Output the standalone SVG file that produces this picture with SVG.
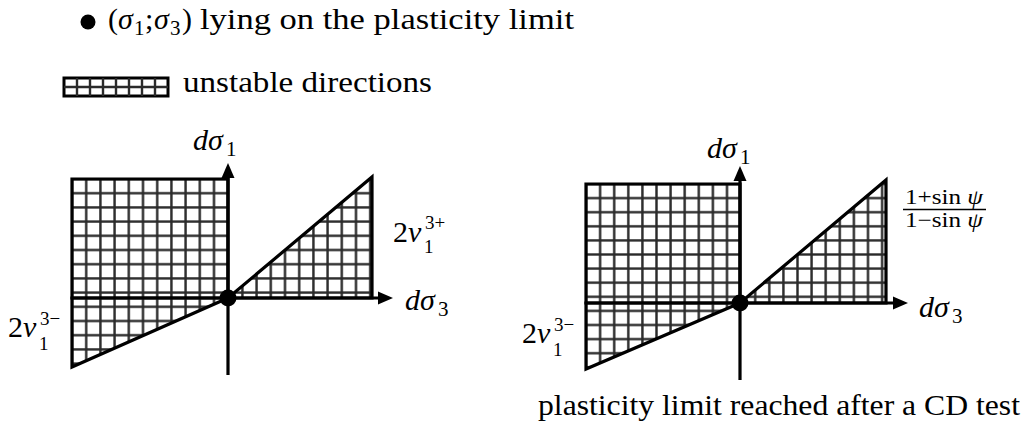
<svg xmlns="http://www.w3.org/2000/svg" width="1030" height="441" viewBox="0 0 1030 441">
<style>
text{font-family:'Liberation Serif','DejaVu Serif','Times New Roman',serif;fill:#000}
.t{font-size:30px}
.m{font-size:30px}
.i{font-style:italic}
.s{font-size:21px}
.p{font-size:19px}
.f{font-size:21px}
.o{stroke:#000;stroke-width:3.2;stroke-linejoin:miter}
.ax{stroke:#000;stroke-width:3.2;fill:none}
.g{stroke:#2a2a2a;stroke-width:2.4}
</style>
<defs>
<pattern id="gridL" patternUnits="userSpaceOnUse" x="64.9" y="171.9" width="14.2" height="14.2">
<path d="M7.1 0V14.2M0 7.1H14.2" class="g"/>
</pattern>
<pattern id="gridR" patternUnits="userSpaceOnUse" x="578.95" y="176.95" width="14.1" height="14.1">
<path d="M7.05 0V14.1M0 7.05H14.1" class="g"/>
</pattern>
</defs>
<rect width="1030" height="441" fill="#fff"/>

<g id="legend">
<circle cx="88" cy="22" r="7.5" fill="#000"/>
<text class="m" x="108" y="29">(</text>
<text class="m i" x="118" y="29">σ</text>
<text class="s" x="134" y="35">1</text>
<text class="m" x="145" y="29">;</text>
<text class="m i" x="154" y="29">σ</text>
<text class="s" x="170" y="35">3</text>
<text class="m" x="182" y="29">)</text>
<text class="t" x="200" y="29" textLength="374" lengthAdjust="spacingAndGlyphs">lying on the plasticity limit</text>
<rect x="64" y="78" width="104" height="18" fill="#fff" stroke="#000" stroke-width="3"/>
<path d="M77 78V96M90 78V96M103 78V96M116 78V96M129 78V96M142 78V96M155 78V96M64 87H168" class="g"/>
<text class="t" x="183" y="92" textLength="249" lengthAdjust="spacingAndGlyphs">unstable directions</text>
</g>

<g id="left-panel">
<polygon class="o" points="72,179 228,179 228,298 72,298" fill="url(#gridL)"/>
<polygon class="o" points="72,298 72,367 228,298" fill="url(#gridL)"/>
<polygon class="o" points="228,298 372,177 372,298" fill="url(#gridL)"/>
</g>

<g id="right-panel">
<polygon class="o" points="586,184 740,184 740,303 586,303" fill="url(#gridR)"/>
<polygon class="o" points="586,303 586,369 740,303" fill="url(#gridR)"/>
<polygon class="o" points="740,303 886,180 886,303" fill="url(#gridR)"/>
</g>

<g id="connectors">
<path class="ax" d="M228 375V176M228 298H380"/>
<polygon points="228,163 221.5,178 234.5,178" fill="#000"/>
<polygon points="393,298 378,291.5 378,304.5" fill="#000"/>
<path class="ax" d="M740 380V179M740 303H895"/>
<polygon points="740,166 733.5,181 746.5,181" fill="#000"/>
<polygon points="908,303 893,296.5 893,309.5" fill="#000"/>
</g>

<g id="origin-left"><circle cx="228" cy="298" r="8.5" fill="#000"/></g>
<g id="origin-right"><circle cx="740" cy="303" r="8.5" fill="#000"/></g>

<g id="labels-left">
<text class="m i" x="193" y="150">dσ</text>
<text class="s" x="226" y="156">1</text>
<text class="m i" x="405" y="310">dσ</text>
<text class="s" x="438" y="316">3</text>
<text class="m" x="393" y="242">2<tspan class="i">ν</tspan></text>
<text class="p" x="424" y="253">1</text>
<text class="p" x="425" y="229">3+</text>
<text class="m" x="8" y="337">2<tspan class="i">ν</tspan></text>
<text class="p" x="39" y="350">1</text>
<text class="p" x="40" y="325">3−</text>
</g>

<g id="labels-right">
<text class="m i" x="707" y="158">dσ</text>
<text class="s" x="740" y="164">1</text>
<text class="m i" x="919" y="317">dσ</text>
<text class="s" x="952" y="323">3</text>
<text class="m" x="522" y="343">2<tspan class="i">ν</tspan></text>
<text class="p" x="553" y="356">1</text>
<text class="p" x="554" y="331">3−</text>
<text class="f" x="905" y="204" textLength="78" lengthAdjust="spacingAndGlyphs">1+sin <tspan class="i">ψ</tspan></text>
<path d="M903 209.5H986" stroke="#000" stroke-width="1.3"/>
<text class="f" x="905" y="227" textLength="78" lengthAdjust="spacingAndGlyphs">1−sin <tspan class="i">ψ</tspan></text>
<text class="t" x="538" y="415" textLength="482" lengthAdjust="spacingAndGlyphs">plasticity limit reached after a CD test</text>
</g>
</svg>
